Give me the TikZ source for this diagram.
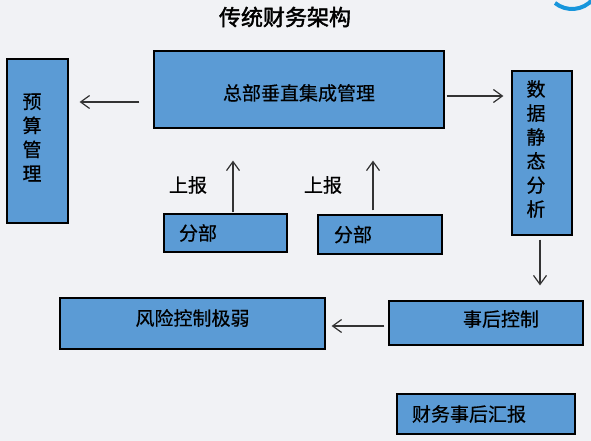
\documentclass[tikz,border=0pt]{standalone}
\usepackage{fontspec}
\usetikzlibrary{arrows.meta}
\newfontfamily\cjk[FakeBold=0.6]{Noto Sans CJK SC}
\newfontfamily\cjktitle[FakeBold=2]{Noto Sans CJK SC}
\definecolor{figBg}{RGB}{241,242,245}
\definecolor{figBox}{RGB}{91,155,213}
\definecolor{figLogo}{RGB}{24,150,220}

\begin{document}
\begin{tikzpicture}[x=1pt,y=-1pt,>={Straight Barb[length=9pt,width=13pt]},
  box/.style={draw=black,line width=1.2pt,fill=figBox,inner sep=0pt},
  lbl/.style={font=\cjk\fontsize{19}{24}\selectfont,align=center,inner sep=0pt},
  link/.style={->,line width=1.2pt,draw=black!80}]
\useasboundingbox (0,0) rectangle (591,441);
\fill[figBg] (0,0) rectangle (591,441);
\draw[figLogo,line width=4pt] (572,-18) ++(129:27) arc (129:40:27);
\node[font=\cjktitle\fontsize{22}{24}\selectfont,inner sep=0pt] (title) at (285,17) {传统财务架构};

\node[box,minimum width=61pt,minimum height=164pt,label={[lbl,name=budgettxt,xshift=-5.5pt,yshift=3.5pt]center:{预\\算\\管\\理}}] (budget) at (37.5,141) {};
\node[box,minimum width=290pt,minimum height=77pt,label={[lbl,name=hqtxt,yshift=-3.5pt]center:总部垂直集成管理}] (hq) at (299,89.5) {};
\node[box,minimum width=60pt,minimum height=164pt,label={[lbl,name=analysistxt,xshift=-6pt,yshift=4pt]center:{数\\据\\静\\态\\分\\析}}] (analysis) at (542,153) {};
\node[box,minimum width=123pt,minimum height=38pt,label={[lbl,name=branchatxt,xshift=-27.5pt]center:分部}] (brancha) at (225.5,233) {};
\node[box,minimum width=124pt,minimum height=39pt,label={[lbl,name=branchbtxt,xshift=-27pt]center:分部}] (branchb) at (380,234.5) {};
\node[box,minimum width=194pt,minimum height=44pt,label={[lbl,name=controltxt,xshift=15pt,yshift=4pt]center:事后控制}] (control) at (486,323) {};
\node[box,minimum width=265pt,minimum height=51pt,label={[lbl,name=risktxt,yshift=5.5pt]center:风险控制极弱}] (risk) at (192.5,323.5) {};
\node[box,minimum width=178pt,minimum height=40pt,label={[lbl,name=reporttxt,xshift=-17pt]center:财务事后汇报}] (report) at (486,414) {};

\node[lbl] (upa) at (188,185) {上报};
\node[lbl] (upb) at (323,185) {上报};

\draw[link] ([shift={(-14,12.5)}]hq.west) -- ([shift={(11,-39)}]budget.east);
\draw[link] ([shift={(2,6.5)}]hq.east) -- ([shift={(-8,-57)}]analysis.west);
\draw[link] ([shift={(-2,4)}]analysis.south) -- ([shift={(54,-15)}]control.north);
\draw[link] ([shift={(-4,3)}]control.west) -- ([shift={(6,2.5)}]risk.east);
\draw[link] ([shift={(7.5,-1)}]brancha.north) -- ([shift={(-66,32)}]hq.south);
\draw[link] ([shift={(-7,-4)}]branchb.north) -- ([shift={(74,32)}]hq.south);
\end{tikzpicture}
\end{document}
